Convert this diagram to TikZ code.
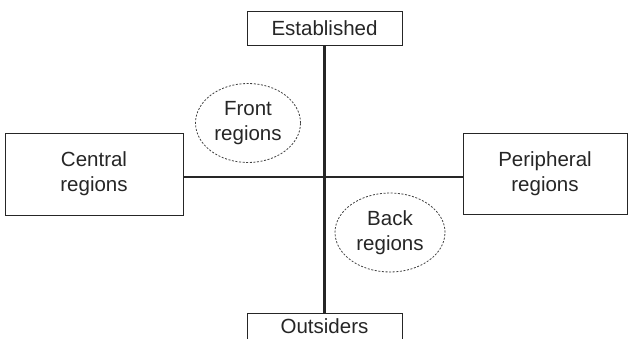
\documentclass[tikz,border=0pt]{standalone}
\usepackage{fontspec}
\setmainfont{Liberation Sans}
\usetikzlibrary{shapes.geometric}
\begin{document}
\begin{tikzpicture}[x=1pt,y=-1pt,
  every node/.style={font=\fontsize{20.5}{25}\selectfont, text=black!85, align=center},
  boxnode/.style={draw=black!85, line width=0.9pt, inner sep=0pt},
  regionel/.style={ellipse, draw=black!75, line width=0.8pt, dash pattern=on 2pt off 1.6pt, inner sep=0pt},
  axis/.style={line width=2.6pt, draw=black!85}]
\clip (0,0) rectangle (632,339);
\fill[white] (0,0) rectangle (632,339);
\node[boxnode, minimum width=155pt, minimum height=34pt] (est) at (324.5,28.5) {Established};
\node[boxnode, minimum width=178pt, minimum height=82pt] (cen) at (94,174) {Central\\regions};
\node[boxnode, minimum width=164pt, minimum height=81pt] (per) at (545,173.5) {Peripheral\\regions};
\node[boxnode, anchor=north, minimum width=155pt, text height=16pt, text depth=20pt, inner ysep=4pt] (out) at (324.5,313) {Outsiders};
\node[regionel, minimum width=105pt, minimum height=79pt] (front) at (248,123) {Front\\regions};
\node[regionel, minimum width=110pt, minimum height=79pt] (back) at (390,232.5) {Back\\regions};
\draw[axis] (est.south) -- (out.north);
\draw[axis] ([yshift=-3pt]cen.east) -- ([yshift=-3.5pt]per.west);
\end{tikzpicture}
\end{document}
